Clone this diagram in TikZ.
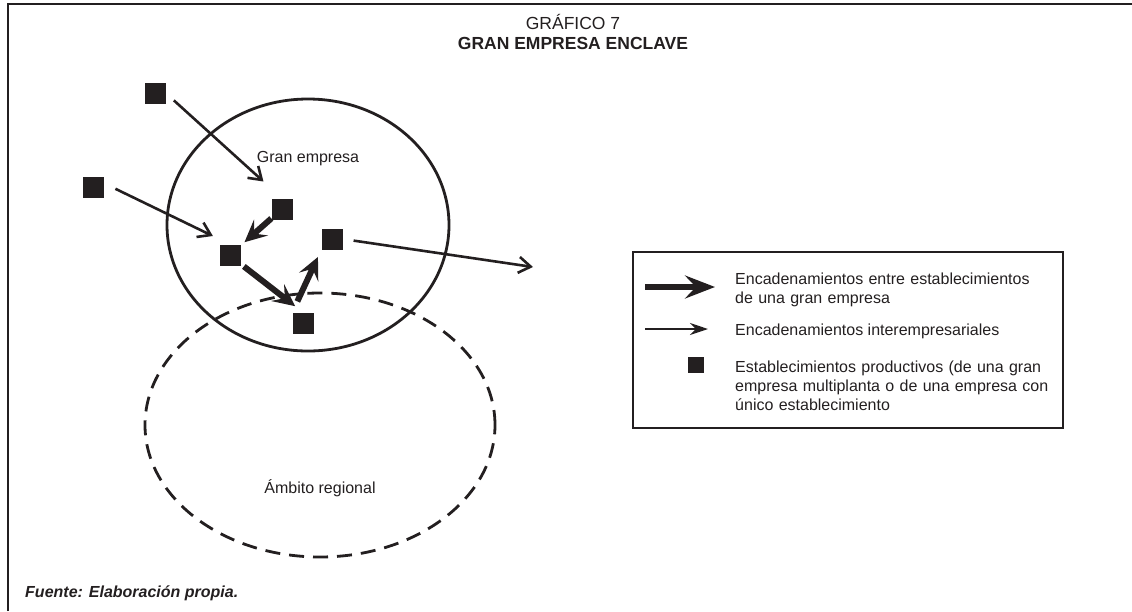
\documentclass[tikz,border=0pt]{standalone}
\usepackage{fontspec}
\setmainfont{Liberation Sans}
\usepackage{xcolor}
\usepackage{tikz}
\usetikzlibrary{arrows.meta}
\definecolor{tinta}{HTML}{231F20}

\begin{document}
\begin{tikzpicture}[x=1pt, y=-1pt, color=tinta, every node/.style={inner sep=0pt}, estab/.style={rectangle, fill=tinta, minimum size=21pt}, enlace/.style={line width=2.6pt, -{Straight Barb[length=12pt,width=16pt]}}, interno/.style={line width=6pt, -{Stealth[length=22pt,width=21pt,inset=9pt]}}, rotulo/.style={font=\fontsize{16}{19}\selectfont}]
		\useasboundingbox (0,0) rectangle (1132,611);
		\draw[line width=2.4pt] (8,611) -- (8,4) -- (1132,4);
		\node[font=\fontsize{17.5}{20}\selectfont, anchor=base] (titulo) at (573,29) {GRÁFICO 7};
		\node[font=\fontsize{17.5}{20}\selectfont\bfseries, anchor=base] (nombre) at (573,49) {GRAN EMPRESA ENCLAVE};
		\draw[line width=2.8pt] (308,225) ellipse [x radius=141pt, y radius=126pt];
		\draw[line width=2.8pt, dash pattern=on 15pt off 9pt] (320,425) ellipse [x radius=175pt, y radius=132pt];
		\node[rotulo, anchor=base] (gran) at (308,162) {Gran empresa};
		\node[rotulo, anchor=base] (ambito) at (320,493) {Ámbito regional};
		\node[estab] (p1) at (155,93) {};
		\node[estab] (p2) at (93,187) {};
		\node[estab] (p3) at (282,209) {};
		\node[estab] (p4) at (230,255) {};
		\node[estab] (p5) at (332,239) {};
		\node[estab] (p6) at (303,323) {};
		\coordinate (fuera) at (533,267);
		\draw[enlace, shorten <=11pt, shorten >=25pt] (p1.east) -- (p3.north);
		\draw[enlace, shorten <=13pt, shorten >=19pt] (p2.20) -- (p4.north);
		\draw[interno, shorten >=5pt] (p3) -- (p4);
		\draw[interno, shorten <=4pt, shorten >=10pt] (p4.-40) -- (p6.north);
		\draw[interno, shorten <=12pt, shorten >=8pt] (p6.north west) -- (p5.south west);
		\draw[enlace, shorten <=11pt] (p5.east) -- (fuera);
		\draw[line width=2pt] (633,252) rectangle (1063,428);
		\coordinate (a1) at (645,287);
		\coordinate (b1) at (715,287);
		\draw[interno, line width=6.5pt, -{Stealth[length=30pt,width=23pt,inset=11pt]}] (a1) -- (b1);
		\coordinate (a2) at (645,329);
		\coordinate (b2) at (708,329);
		\draw[enlace, -{Stealth[length=18pt,width=12pt,inset=6pt]}] (a2) -- (b2);
		\node[estab, minimum size=16pt] (p0) at (696,365) {};
		\node[rotulo, anchor=base west, text width=330pt, align=left] (t1) at (735,284) {Encadenamientos entre establecimientos\\de una gran empresa};
		\node[rotulo, anchor=base west] (t2) at (735,335) {Encadenamientos interempresariales};
		\node[rotulo, anchor=base west, text width=330pt, align=left] (t3) at (735,372) {Establecimientos productivos (de una gran\\empresa multiplanta o de una empresa con\\único establecimiento};
		\node[font=\fontsize{16}{18}\selectfont\bfseries\itshape, anchor=base west] (fuente) at (25,597) {Fuente: Elaboración propia.};
	\end{tikzpicture}
\end{document}
